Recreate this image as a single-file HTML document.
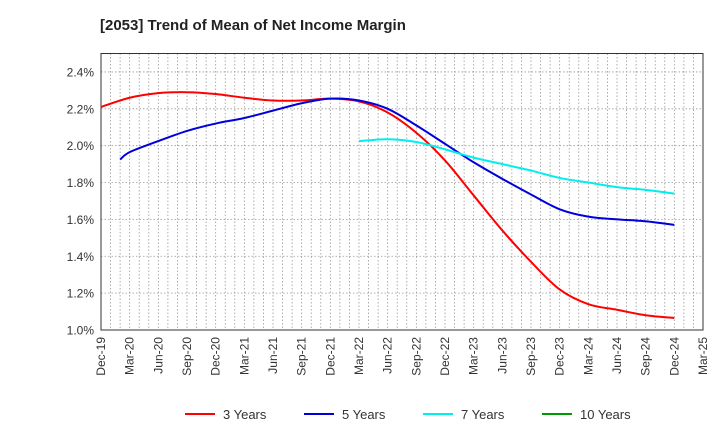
<!DOCTYPE html>
<html><head><meta charset="utf-8"><style>
body{margin:0;background:#fff;font-family:"Liberation Sans",Arial,sans-serif}
</style></head><body>
<svg id="chart" width="720" height="440" xmlns="http://www.w3.org/2000/svg" font-family="Liberation Sans, Arial, sans-serif">
<text x="100" y="30" font-size="15" font-weight="bold" fill="#222">[2053]  Trend of Mean of Net Income Margin</text>
<g id="grid"></g>
<g id="axes"></g>
<g id="series"></g>
<g id="legend"></g>
</svg>
<script>
const xLabels=["Dec-19","Mar-20","Jun-20","Sep-20","Dec-20","Mar-21","Jun-21","Sep-21","Dec-21","Mar-22","Jun-22","Sep-22","Dec-22","Mar-23","Jun-23","Sep-23","Dec-23","Mar-24","Jun-24","Sep-24","Dec-24","Mar-25"];
const yTicks=[1.0,1.2,1.4,1.6,1.8,2.0,2.2,2.4];
const s3=[2.21,2.26,2.285,2.29,2.28,2.26,2.245,2.245,2.255,2.24,2.18,2.07,1.92,1.73,1.54,1.37,1.22,1.14,1.11,1.08,1.065];
const s5=[null,1.965,2.025,2.08,2.12,2.15,2.19,2.23,2.255,2.245,2.20,2.11,2.01,1.91,1.82,1.735,1.655,1.615,1.60,1.59,1.57];
const s7=[null,null,null,null,null,null,null,null,null,2.025,2.035,2.02,1.98,1.935,1.90,1.865,1.825,1.80,1.775,1.76,1.74];
const s10=[];
const firstIdx=[0,0.67,0,8.67];
const firstVal=[null,1.925,null,2.02];
const seriesNames=["3 Years","5 Years","7 Years","10 Years"];
const colors=["#ff0000","#0000dd","#00eeee","#009900"];
const L=101,R=703,T=53.5,B=330,yMin=1.0,yMax=2.5;
const NS="http://www.w3.org/2000/svg";
const xq=i=>L+(R-L)*i/(xLabels.length-1);
const y=v=>B-(v-yMin)/(yMax-yMin)*(B-T);
function mk(t,a,p){const e=document.createElementNS(NS,t);for(const k in a)e.setAttribute(k,a[k]);p.appendChild(e);return e;}
const grid=document.getElementById('grid'),axes=document.getElementById('axes'),ser=document.getElementById('series'),leg=document.getElementById('legend');
const nm=(xLabels.length-1)*3;
for(let m=1;m<nm;m++){const x=L+(R-L)*m/nm;const g=mk('line',{x1:x,x2:x,y1:T,y2:B,stroke:'#999','stroke-dasharray':'1.5,2','stroke-width':0.8},grid);
}
yTicks.forEach(v=>{const g=mk('line',{x1:L,x2:R,y1:y(v),y2:y(v),stroke:'#999','stroke-dasharray':'1.5,2','stroke-width':0.8},grid);

const t=mk('text',{x:L-7,y:y(v)+4.5,'text-anchor':'end','font-size':12,fill:'#333'},axes);t.textContent=v.toFixed(1)+'%';
});
const fr=mk('rect',{x:L,y:T,width:R-L,height:B-T,fill:'none',stroke:'#333','stroke-width':1},axes);

xLabels.forEach((l,i)=>{const x=xq(i);const t=mk('text',{x:x+4,y:B+7,'text-anchor':'end','font-size':12,fill:'#333',transform:`rotate(-90 ${x+4} ${B+7})`},axes);t.textContent=l;
});
function path(arr,k){const p=[];if(firstVal[k]!=null)p.push([xq(firstIdx[k]),y(firstVal[k])]);arr.forEach((v,i)=>{if(v!=null)p.push([xq(i),y(v)]);});if(p.length<2)return '';
let d=`M${p[0][0]},${p[0][1]}`;for(let i=0;i<p.length-1;i++){const p0=p[i-1]||p[i],p1=p[i],p2=p[i+1],p3=p[i+2]||p2;
d+=`C${p1[0]+(p2[0]-p0[0])/6},${p1[1]+(p2[1]-p0[1])/6} ${p2[0]-(p3[0]-p1[0])/6},${p2[1]-(p3[1]-p1[1])/6} ${p2[0]},${p2[1]}`;}return d;}
[s3,s5,s7,s10].forEach((s,k)=>{const d=path(s,k);if(d){const e=mk('path',{d:d,fill:'none',stroke:colors[k],'stroke-width':2},ser);
}});
const lx=[185,304,423,542];
seriesNames.forEach((n,k)=>{const g=mk('g',{},leg);
mk('line',{x1:lx[k],x2:lx[k]+30,y1:414,y2:414,stroke:colors[k],'stroke-width':2},g);
const t=mk('text',{x:lx[k]+38,y:419,'font-size':13,fill:'#333'},g);t.textContent=n;});
</script>
</body></html>
